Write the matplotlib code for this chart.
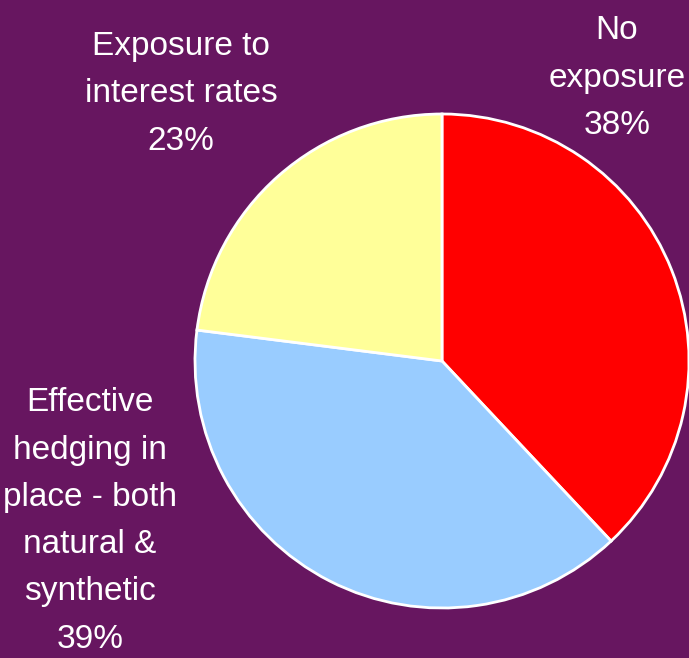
import matplotlib
matplotlib.use("Agg")
import matplotlib.pyplot as plt

# pie shares, clockwise from 12 o'clock
labels = ['No\nexposure\n38%',
          'Effective\nhedging in\nplace - both\nnatural &\nsynthetic\n39%',
          'Exposure to\ninterest rates\n23%']
shares = [38, 39, 23]
colors = ['#FF0000', '#99CCFF', '#FFFF99']
bg = '#671660'

plt.rcParams['font.family'] = ['Liberation Sans Narrow', 'Liberation Sans', 'DejaVu Sans']

W, H = 689, 658
fig = plt.figure(figsize=(W / 100, H / 100), dpi=100, facecolor=bg)
ax = fig.add_axes([0, 0, 1, 1])
ax.set_facecolor(bg)

ax.pie(shares, colors=colors, startangle=90, counterclock=False,
       center=(442, H - 361), radius=247, frame=True,
       wedgeprops=dict(edgecolor='white', linewidth=2))
ax.set_xlim(0, W)
ax.set_ylim(0, H)
ax.set_aspect('equal')
ax.axis('off')

# label centres (pixels from top-left)
label_pos = [(617, 78), (90, 521), (181, 94)]
for txt, (x, y) in zip(labels, label_pos):
    ax.text(x, H - y, txt, ha='center', va='center', color='white',
            fontsize=24, linespacing=1.68)

fig.savefig('out.png', dpi=100, facecolor=bg)
